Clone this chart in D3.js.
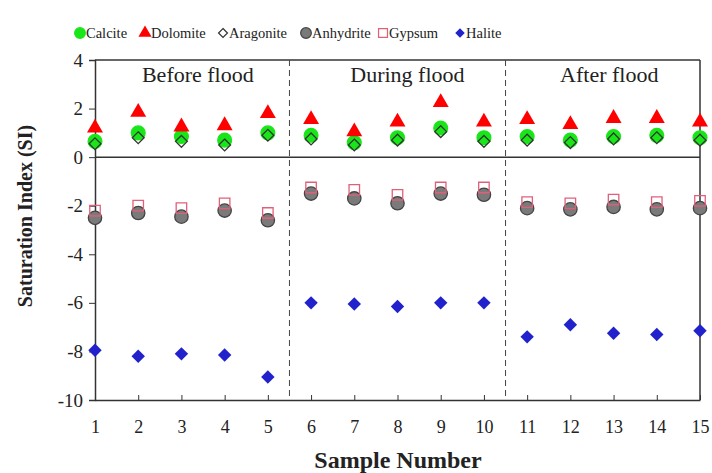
<!DOCTYPE html>
<html>
<head>
<meta charset="utf-8">
<script src="https://cdn.jsdelivr.net/npm/d3@7"></script>
<style>
  body { margin: 0; background: #fff; }
  text { font-family: "Liberation Serif", "Times New Roman", serif; fill: #222; }
</style>
</head>
<body>
<div id="chart"></div>
<script>
// Sample numbers and saturation index values per mineral
var samples = [1, 2, 3, 4, 5, 6, 7, 8, 9, 10, 11, 12, 13, 14, 15];
var calcite   = [0.65, 1.0, 0.85, 0.7, 1.0, 0.9, 0.6, 0.8, 1.2, 0.8, 0.85, 0.7, 0.85, 0.9, 0.8];
var dolomite  = [1.2, 1.85, 1.25, 1.3, 1.8, 1.55, 1.05, 1.45, 2.25, 1.45, 1.55, 1.35, 1.6, 1.6, 1.45];
var aragonite = [0.55, 0.8, 0.65, 0.5, 0.9, 0.75, 0.5, 0.7, 1.05, 0.65, 0.7, 0.6, 0.75, 0.8, 0.7];
var anhydrite = [-2.5, -2.3, -2.45, -2.2, -2.6, -1.5, -1.7, -1.9, -1.5, -1.55, -2.1, -2.15, -2.05, -2.15, -2.1];
var gypsum    = [-2.2, -2.0, -2.1, -1.9, -2.3, -1.25, -1.35, -1.55, -1.25, -1.25, -1.85, -1.9, -1.75, -1.85, -1.8];
var halite    = [-7.95, -8.2, -8.1, -8.15, -9.05, -6.0, -6.05, -6.15, -6.0, -6.0, -7.4, -6.9, -7.25, -7.3, -7.15];
var yTicks = [4, 2, 0, -2, -4, -6, -8, -10];
var periods = ['Before flood', 'During flood', 'After flood'];
var periodBounds = [5.5, 10.5];

var fullWidth = 712, fullHeight = 473;
var margin = { top: 60, right: 12, bottom: 73, left: 95 };

var svg = d3.select('#chart').append('svg')
    .attr('width', fullWidth)
    .attr('height', fullHeight);

var x = d3.scaleLinear().domain([1, 15]).range([margin.left, fullWidth - margin.right]);
var y = d3.scaleLinear().domain([-10, 4]).range([fullHeight - margin.bottom, margin.top]);

var axisColor = '#333';

// square diamond (square turned 45 degrees)
var symbolRhomb = {
    draw: function (context, size) {
        var r = Math.sqrt(size / 2);
        context.moveTo(0, -r);
        context.lineTo(r, 0);
        context.lineTo(0, r);
        context.lineTo(-r, 0);
        context.closePath();
    }
};

// frame: top and right borders
svg.append('line')
    .attr('x1', x(1)).attr('x2', x(15))
    .attr('y1', y(4)).attr('y2', y(4))
    .attr('stroke', axisColor).attr('stroke-width', 1.5);
svg.append('line')
    .attr('x1', x(15)).attr('x2', x(15))
    .attr('y1', y(4)).attr('y2', y(-10))
    .attr('stroke', axisColor).attr('stroke-width', 1.5);

// zero line
svg.append('line')
    .attr('x1', x(1)).attr('x2', x(15))
    .attr('y1', y(0)).attr('y2', y(0))
    .attr('stroke', axisColor).attr('stroke-width', 1.5);

// dashed period separators
svg.selectAll('line.sep').data(periodBounds).enter()
    .append('line')
    .attr('class', 'sep')
    .attr('x1', function (d) { return x(d); })
    .attr('x2', function (d) { return x(d); })
    .attr('y1', y(4)).attr('y2', y(-10))
    .attr('stroke', '#444').attr('stroke-width', 1)
    .attr('stroke-dasharray', '6,4');

// period labels (roughly centred in each panel)
var periodCenters = [3.38, 8.23, 12.9];
svg.selectAll('text.period').data(periods).enter()
    .append('text')
    .attr('class', 'period')
    .attr('x', function (d, i) { return x(periodCenters[i]); })
    .attr('y', 82)
    .attr('text-anchor', 'middle')
    .style('font-size', '22px')
    .text(function (d) { return d; });

// axes
var yAxis = d3.axisLeft(y).tickValues(yTicks).tickSize(6).tickPadding(6)
    .tickFormat(function (d) { return d < 0 ? '-' + Math.abs(d) : String(d); });
var yAxisEle = svg.append('g')
    .attr('transform', 'translate(' + margin.left + ',0)')
    .call(yAxis);
yAxisEle.selectAll('text').style('font-size', '19px').style('fill', '#222');

var xAxis = d3.axisBottom(x).tickValues(samples).tickSize(0).tickPadding(20)
    .tickFormat(d3.format('d'));
var xAxisEle = svg.append('g')
    .attr('transform', 'translate(0,' + y(-10) + ')')
    .call(xAxis);
xAxisEle.selectAll('text').style('font-size', '18px').style('fill', '#222');
// inward tick marks
xAxisEle.selectAll('.tick').append('line')
    .attr('y1', 0).attr('y2', -5)
    .attr('stroke', axisColor);

svg.selectAll('.domain').attr('stroke', axisColor).attr('stroke-width', 1.5);
svg.selectAll('.tick line').attr('stroke', axisColor);

// axis titles
svg.append('text')
    .attr('x', 398)
    .attr('y', 468)
    .attr('text-anchor', 'middle')
    .style('font-size', '24px')
    .style('font-weight', 'bold')
    .text('Sample Number');

svg.append('text')
    .attr('transform', 'translate(32,216)rotate(-90)')
    .attr('text-anchor', 'middle')
    .style('font-size', '20px')
    .style('font-weight', 'bold')
    .text('Saturation Index (SI)');

// series definitions (drawing order matters)
var series = [
    { name: 'Calcite', values: calcite, shape: d3.symbolCircle, size: 150, fill: '#19e619', stroke: '#19e619' },
    { name: 'Dolomite', values: dolomite, shape: d3.symbolTriangle, size: 110, fill: '#ff0000', stroke: 'none' },
    { name: 'Aragonite', values: aragonite, shape: symbolRhomb, size: 70, fill: 'none', stroke: '#333' },
    { name: 'Anhydrite', values: anhydrite, shape: d3.symbolCircle, size: 140, fill: '#7a7a7a', stroke: '#444' },
    { name: 'Gypsum', values: gypsum, shape: d3.symbolSquare, size: 110, fill: 'none', stroke: '#e0607a' },
    { name: 'Halite', values: halite, shape: symbolRhomb, size: 90, fill: '#2222cc', stroke: 'none' }
];

var points = svg.append('g');
series.forEach(function (s) {
    points.selectAll('path.' + s.name).data(s.values).enter()
        .append('path')
        .attr('class', s.name)
        .attr('d', d3.symbol().type(s.shape).size(s.size))
        .attr('transform', function (d, i) {
            return 'translate(' + x(samples[i]) + ',' + y(d) + ')';
        })
        .attr('fill', s.fill)
        .attr('stroke', s.stroke)
        .attr('stroke-width', 1.3);
});

// legend
var legendX = [80, 145, 223, 306, 383, 460];
var legendSizes = [90, 75, 40, 90, 80, 45];
var legend = svg.append('g');
series.forEach(function (s, i) {
    legend.append('path')
        .attr('d', d3.symbol().type(s.shape).size(legendSizes[i]))
        .attr('transform', 'translate(' + legendX[i] + ',33)')
        .attr('fill', s.name === 'Aragonite' ? '#fff' : s.fill)
        .attr('stroke', s.stroke)
        .attr('stroke-width', 1.2);
    legend.append('text')
        .attr('x', legendX[i] + 6)
        .attr('y', 38)
        .style('font-size', '14.5px')
        .text(s.name);
});
</script>
</body>
</html>
